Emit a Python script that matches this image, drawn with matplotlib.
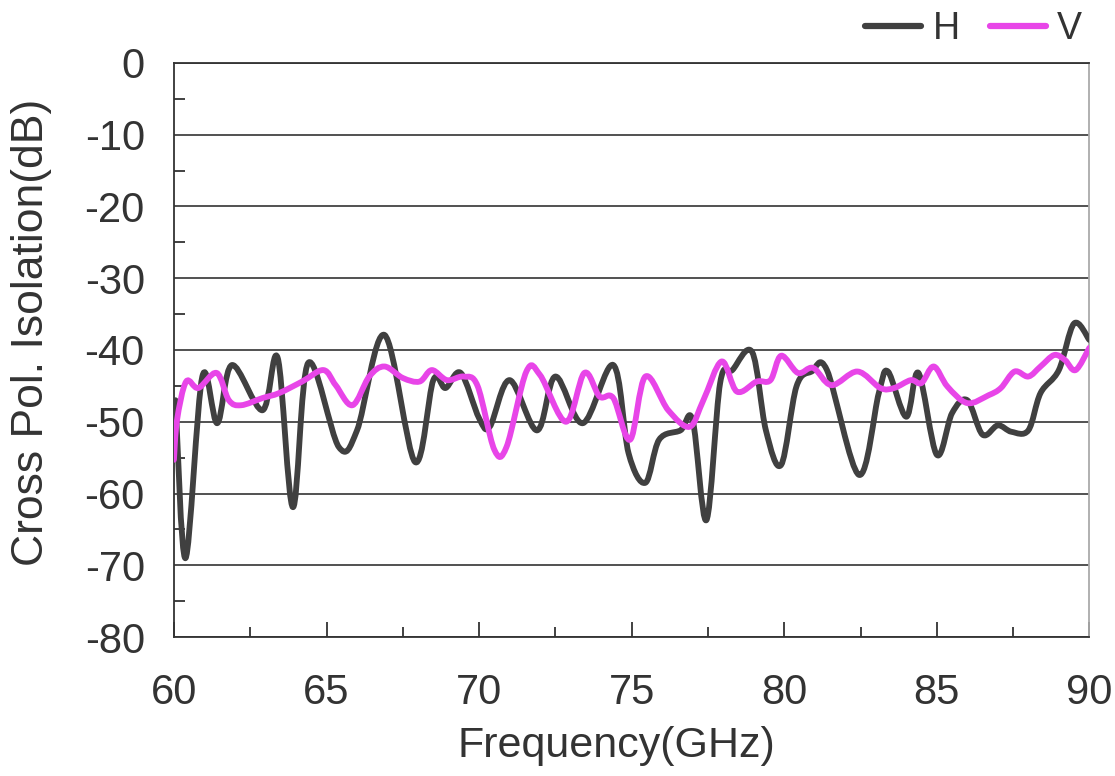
import numpy as np
import matplotlib.pyplot as plt
from matplotlib.ticker import MultipleLocator
from matplotlib.path import Path
from matplotlib.patches import PathPatch
from matplotlib.lines import Line2D

plt.rcParams['font.family'] = ['Liberation Sans', 'DejaVu Sans']
plt.rcParams['axes.unicode_minus'] = False

# --- data (GHz, dB) ---
freq_h = [60.05, 60.38, 60.93, 61.42, 61.9, 62.9, 63.4, 63.9, 64.4, 65.4, 66.0,
          66.9, 67.9, 68.5, 68.9, 69.4, 70.0, 70.35, 71.0, 71.9, 72.5, 73.4,
          74.4, 74.9, 75.45, 75.9, 76.6, 77.0, 77.45, 77.9, 78.3, 78.95, 79.4,
          79.9, 80.4, 80.9, 81.4, 82.45, 83.1, 83.4, 84.0, 84.4, 85.0, 85.5,
          86.0, 86.5, 87.0, 87.45, 88.0, 88.4, 89.0, 89.5, 90.0]
iso_h = [-47, -69.0, -43.7, -50.2, -42.1, -48.4, -41.1, -61.9, -41.8, -53.5, -51.2,
         -37.9, -55.6, -44.2, -45.3, -43.2, -49.5, -50.7, -44.2, -51.2, -43.7, -50.2,
         -42.1, -54.4, -58.5, -52.5, -51.2, -49.8, -63.7, -44.6, -42.8, -40.3, -51.2,
         -56.0, -45.1, -43.0, -42.8, -57.4, -46.0, -43.0, -49.3, -43.2, -54.6, -48.8,
         -47.0, -51.8, -50.5, -51.4, -51.2, -46.0, -42.8, -36.3, -38.6]

freq_v = [60.0, 60.1, 60.4, 60.8, 61.4, 61.8, 62.2, 62.9, 63.45, 64.2, 64.9, 65.3,
          65.85, 66.4, 66.9, 67.5, 68.05, 68.45, 68.95, 69.5, 69.95, 70.5, 70.9,
          71.55, 72.0, 72.85, 73.45, 73.95, 74.4, 74.95, 75.45, 76.2, 76.9, 77.35,
          77.95, 78.45, 79.1, 79.55, 79.9, 80.45, 80.95, 81.55, 82.4, 83.15, 83.6,
          84.15, 84.5, 84.9, 85.35, 86.0, 86.7, 87.1, 87.55, 88.0, 88.4, 88.85,
          89.2, 89.55, 90.0]
iso_v = [-55.3, -49.8, -44.4, -45.3, -43.2, -47.0, -47.7, -46.7, -46.0, -44.4, -42.8, -44.9,
         -47.7, -43.7, -42.3, -43.9, -44.4, -42.8, -44.2, -43.7, -45.0, -53.9, -53.5,
         -43.0, -43.5, -50.0, -43.2, -46.5, -46.7, -52.5, -43.7, -48.4, -50.7, -47.0,
         -41.6, -45.8, -44.4, -44.2, -40.8, -43.2, -42.5, -44.9, -43.0, -45.3, -45.3,
         -44.2, -44.6, -42.3, -45.1, -47.4, -46.3, -45.3, -43.0, -43.7, -42.3, -40.7,
         -41.4, -42.8, -39.7]

H_COLOR = '#404040'
V_COLOR = '#e845e8'


def smooth_path(x, y):
    # Excel-style smoothed line: Catmull-Rom segments drawn as cubic Beziers
    p = np.column_stack([x, y]).astype(float)
    n = len(p)
    verts = [p[0]]
    codes = [Path.MOVETO]
    for i in range(n - 1):
        p0 = p[max(i - 1, 0)]
        p1 = p[i]
        p2 = p[i + 1]
        p3 = p[min(i + 2, n - 1)]
        c1 = p1 + (p2 - p0) / 6.0
        c2 = p2 - (p3 - p1) / 6.0
        verts += [c1, c2, p2]
        codes += [Path.CURVE4] * 3
    return Path(verts, codes)


fig = plt.figure(figsize=(11.15, 7.76), dpi=100)
ax = fig.add_axes([0.156, 0.179, 0.821, 0.740])

ax.add_patch(PathPatch(smooth_path(freq_h, iso_h), fill=False, edgecolor=H_COLOR,
                       lw=4.2, joinstyle='round', capstyle='round', zorder=3))
ax.add_patch(PathPatch(smooth_path(freq_v, iso_v), fill=False, edgecolor=V_COLOR,
                       lw=4.2, joinstyle='round', capstyle='round', zorder=4))

ax.set_xlim(60, 90)
ax.set_ylim(-80, 0)
ax.xaxis.set_major_locator(MultipleLocator(5))
ax.xaxis.set_minor_locator(MultipleLocator(2.5))
ax.yaxis.set_major_locator(MultipleLocator(10))
ax.yaxis.set_minor_locator(MultipleLocator(5))

ax.grid(True, axis='y', which='major', color='#333333', lw=1.2, zorder=1)
ax.tick_params(axis='x', which='major', direction='in', length=11, width=1.3,
               color='#333333', labelsize=30, labelcolor='#333333', pad=26)
ax.tick_params(axis='x', which='minor', direction='in', length=7, width=1.3, color='#333333')
ax.tick_params(axis='y', which='major', length=0, labelsize=30, labelcolor='#333333', pad=21)
ax.tick_params(axis='y', which='minor', direction='in', length=8, width=1.3, color='#333333')

for side in ['left', 'bottom', 'top']:
    ax.spines[side].set_color('#333333')
    ax.spines[side].set_linewidth(1.3)
ax.spines['right'].set_color('#aaaaaa')
ax.spines['right'].set_linewidth(1.3)

ax.set_xlabel('Frequency(GHz)', fontsize=31, color='#333333')
ax.set_ylabel('Cross Pol. Isolation(dB)', fontsize=32, color='#333333')
ax.xaxis.set_label_coords(0.483, -0.155)
ax.yaxis.set_label_coords(-0.133, 0.53)

handles = [Line2D([], [], color=H_COLOR, lw=4.5, solid_capstyle='round'),
           Line2D([], [], color=V_COLOR, lw=4.5, solid_capstyle='round')]
ax.legend(handles, ['H', 'V'], loc='lower right', bbox_to_anchor=(0.992, 1.028), ncol=2,
          frameon=False, fontsize=27, handlelength=1.5, handletextpad=0.3,
          columnspacing=0.8, borderaxespad=0.0, borderpad=0.0, labelcolor='#333333')

fig.savefig('out.png', dpi=100)
